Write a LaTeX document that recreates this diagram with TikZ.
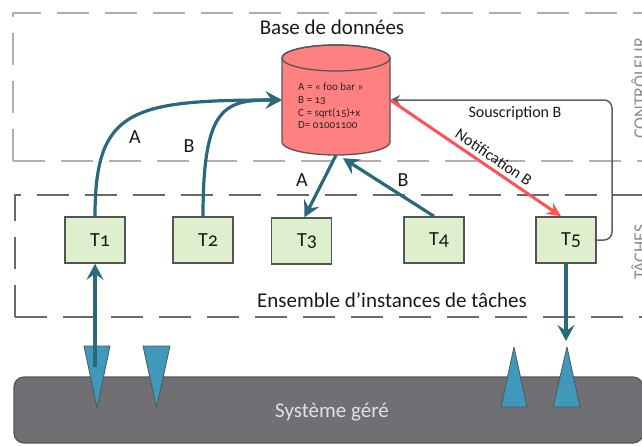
\documentclass[tikz,border=0pt]{standalone}
\usepackage{fontspec}
\setmainfont{Carlito}[Numbers=OldStyle]
\usetikzlibrary{arrows.meta,calc}
\definecolor{arrowteal}{RGB}{42,104,124}
\definecolor{notifred}{RGB}{255,82,82}
\definecolor{dbred}{RGB}{255,128,128}
\definecolor{taskgreen}{RGB}{221,239,205}
\definecolor{edgegray}{RGB}{85,85,88}
\definecolor{subgray}{RGB}{95,95,100}
\definecolor{ctrlgray}{RGB}{175,175,175}
\definecolor{zonegray}{RGB}{105,105,105}
\definecolor{sysgray}{RGB}{112,112,116}
\definecolor{triblue}{RGB}{64,152,186}
\definecolor{textdark}{RGB}{25,25,25}
\definecolor{vertgray}{RGB}{140,140,140}
\tikzset{
  ctrlzone/.style={draw=ctrlgray, line width=1.3pt, dash pattern=on 32pt off 16pt},
  taskzone/.style={draw=zonegray, line width=1.5pt, dash pattern=on 32pt off 16pt},
  vertlabel/.style={rotate=90, anchor=base, text=vertgray, font=\fontsize{18}{21}\selectfont, inner sep=0pt},
  biglabel/.style={anchor=base, text=textdark, font=\fontsize{21}{25}\selectfont, inner sep=0pt},
  midlabel/.style={text=textdark, font=\fontsize{16}{19}\selectfont},
  letterlabel/.style={anchor=base, text=textdark, font=\fontsize{20}{24}\selectfont, inner sep=0pt},
  taskbox/.style={draw=edgegray, line width=1.5pt, fill=taskgreen, minimum width=60pt, minimum height=46pt, inner sep=0pt, text=textdark, font=\fontsize{20}{24}\selectfont},
  flow/.style={draw=arrowteal, line width=3.2pt, -{Stealth[length=16pt,width=17pt,inset=6pt]}},
  notif/.style={draw=notifred, line width=3pt, -{Stealth[length=14pt,width=13pt,inset=4.5pt]}},
  subscr/.style={draw=subgray, line width=1.5pt, rounded corners=8pt, -{Stealth[length=10pt,width=10pt,inset=3.5pt]}},
  funnel/.style={fill=triblue, draw=edgegray, line width=0.8pt, line join=round},
}
\begin{document}
\begin{tikzpicture}[x=1pt,y=1pt]
\useasboundingbox (0,0) rectangle (642,-445);
% zones
\draw[ctrlzone] (13,-161) -- (13,-13) -- (720,-13);
\draw[ctrlzone] (13,-161) -- (720,-161);
\draw[taskzone] (15,-317) -- (15,-195) -- (720,-195);
\draw[taskzone] (15,-317) -- (720,-317);
\node[vertlabel] (ctrllbl) at (646,-88.5) {CONTRÔLEUR};
\node[vertlabel] (tasklbl) at (646,-252) {TÂCHES};
% managed system
\node[draw=edgegray, line width=1.2pt, fill=sysgray, rounded corners=10pt,
      minimum width=629pt, minimum height=66pt, inner sep=0pt] (sys) at (328.5,-410) {};
\node[biglabel, text={rgb,255:red,225;green,225;blue,228}] (syslbl) at (332,-417) {Système géré};
% funnels
\draw[funnel] (84,-346) -- (110,-346) -- (97,-408) -- cycle;
\draw[funnel] (143,-346) -- (170,-346) -- (156.5,-408) -- cycle;
\draw[funnel] (501,-407) -- (527,-407) -- (514,-347) -- cycle;
\draw[funnel] (553,-407) -- (580,-407) -- (567,-347) -- cycle;
\coordinate (inT1) at (95,-367);
\coordinate (outT5) at (566,-341);
% database
\node[minimum width=108pt, minimum height=110pt, inner sep=0pt] (db) at (336,-100) {};
\fill[dbred, draw=edgegray, line width=1.3pt] (282,-58) -- (282,-142)
  arc[start angle=180, end angle=360, x radius=54, y radius=13] -- (390,-58)
  arc[start angle=0, end angle=180, x radius=54, y radius=13] -- cycle;
\draw[edgegray, line width=1.3pt] (336,-58) ellipse [x radius=54, y radius=13];
\node[anchor=west, align=left, inner sep=0pt, text={rgb,255:red,50;green,35;blue,35},
      font=\fontsize{11}{12.7}\selectfont] (dbtext) at (298,-106)
  {A = « foo bar »\\B = 13\\C = sqrt(15)+x\\D= 01001100};
\node[biglabel] (dblbl) at (332,-34) {Base de données};
% tasks
\node[taskbox] (T1) at (95,-240) {\hspace*{10pt}T1};
\node[taskbox] (T2) at (203,-240) {\hspace*{10pt}T2};
\node[taskbox] (T3) at (301.5,-241) {\hspace*{11pt}T3};
\node[taskbox] (T4) at (434,-240) {\hspace*{10pt}T4};
\node[taskbox] (T5) at (566,-240) {\hspace*{10pt}T5};
\node[biglabel] (ensl) at (392,-307) {Ensemble d’instances de tâches};
% connectors
\draw[flow] (T2.north) .. controls (203,-105) and (225,-100) .. (db.west);
\draw[flow] (T1.north) .. controls (95,-110) and (130,-100) .. (db.west);
\node[letterlabel] (lA1) at (135,-143) {A};
\node[letterlabel] (lB1) at (189,-152) {B};
\draw[flow] (db.south) -- ($(T3.north)+(3,0)$);
\draw[flow] (T4.north) -- ($(db.south)+(7,-3)$);
\node[letterlabel] (lA2) at (302,-186) {A};
\node[letterlabel] (lB2) at (403,-186) {B};
\draw[flow] (inT1) -- (T1.south);
\draw[flow] (T5.south) -- (outT5);
\draw[subscr] (T5.east) -- (612,-240) -- (612,-100) -- (db.east);
\node[midlabel, anchor=base, inner sep=0pt] (sublbl) at (515,-117) {Souscription B};
\draw[notif] (db.east) -- node[midlabel, pos=0.57, sloped, above=4pt, inner sep=0pt] (notlbl) {Notification B} ($(T5.north)+(-5,0)$);
\end{tikzpicture}
\end{document}
